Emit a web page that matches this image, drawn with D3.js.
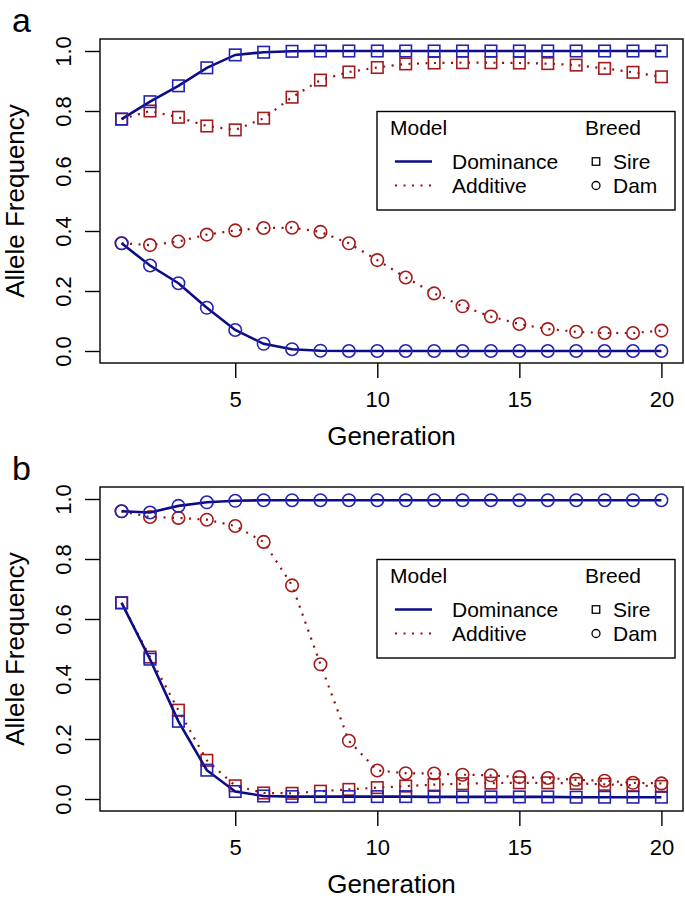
<!DOCTYPE html>
<html><head><meta charset="utf-8">
<script src="https://cdn.jsdelivr.net/npm/d3@7/dist/d3.min.js"></script>
<style>
body{margin:0;background:#fff}
svg{display:block}
text{font-family:"Liberation Sans",Arial,Helvetica,sans-serif;fill:#000}
</style>
</head><body>
<svg id="chart" width="685" height="899"></svg>
<script>
// ---------- data ----------
const generations = [1,2,3,4,5,6,7,8,9,10,11,12,13,14,15,16,17,18,19,20];
const xTickValues = [5,10,15,20];
const yTickValues = [0.0,0.2,0.4,0.6,0.8,1.0];
const panelLabels = ["a","b"];
const modelNames = ["Dominance","Additive"];
const breedNames = ["Sire","Dam"];
const xTitle = "Generation";
const yTitle = "Allele Frequency";

// panel a
const aDominanceSire = [0.773,0.831,0.884,0.944,0.987,0.996,0.999,1,1,1,1,1,1,1,1,1,1,1,1,1];
const aAdditiveSire  = [0.773,0.800,0.779,0.750,0.737,0.776,0.846,0.903,0.930,0.945,0.957,0.960,0.961,0.961,0.960,0.958,0.953,0.942,0.929,0.914];
const aDominanceDam  = [0.359,0.285,0.226,0.144,0.070,0.024,0.006,0.001,0,0,0,0,0,0,0,0,0,0,0,0];
const aAdditiveDam   = [0.359,0.353,0.365,0.388,0.402,0.410,0.411,0.397,0.359,0.303,0.245,0.192,0.149,0.115,0.090,0.073,0.064,0.060,0.060,0.068];

// panel b
const bDominanceSire = [0.654,0.466,0.259,0.096,0.025,0.010,0.008,0.008,0.008,0.008,0.008,0.007,0.007,0.007,0.007,0.007,0.006,0.006,0.006,0.006];
const bAdditiveSire  = [0.654,0.473,0.296,0.129,0.044,0.020,0.019,0.026,0.032,0.038,0.043,0.048,0.051,0.053,0.054,0.054,0.052,0.049,0.046,0.042];
const bDominanceDam  = [0.959,0.955,0.977,0.989,0.994,0.996,0.996,0.996,0.996,0.996,0.996,0.996,0.996,0.996,0.996,0.996,0.996,0.996,0.996,0.996];
const bAdditiveDam   = [0.959,0.940,0.937,0.931,0.910,0.857,0.712,0.449,0.194,0.095,0.086,0.085,0.081,0.079,0.073,0.070,0.064,0.061,0.054,0.052];

// ---------- styles ----------
const domLine = "#0c0c88", domMark = "#2323b4";
const addLine = "#8e1212", addMark = "#a21c1c";

const svg = d3.select("#chart");
const left = 100, right = 683;
const panelOffset = 448;
const boxTop = 39, boxBottom = 363;

const x = d3.scaleLinear().domain([0.24, 20.76]).range([left, right]);

const panels = [
  {label: panelLabels[0], dy: 0, series: [
    {vals: aAdditiveSire, model: 1, breed: 0},
    {vals: aAdditiveDam, model: 1, breed: 1},
    {vals: aDominanceSire, model: 0, breed: 0},
    {vals: aDominanceDam, model: 0, breed: 1}
  ]},
  {label: panelLabels[1], dy: panelOffset, series: [
    {vals: bAdditiveSire, model: 1, breed: 0},
    {vals: bAdditiveDam, model: 1, breed: 1},
    {vals: bDominanceSire, model: 0, breed: 0},
    {vals: bDominanceDam, model: 0, breed: 1}
  ]}
];

function drawMarker(g, cx, cy, breed, color, size, sw) {
  if (breed === 0) {
    g.append("rect").attr("x", cx - size/2).attr("y", cy - size/2)
      .attr("width", size).attr("height", size)
      .attr("fill", "none").attr("stroke", color).attr("stroke-width", sw);
  } else {
    g.append("circle").attr("cx", cx).attr("cy", cy).attr("r", size/2)
      .attr("fill", "none").attr("stroke", color).attr("stroke-width", sw);
  }
}

panels.forEach(p => {
  const g = svg.append("g").attr("transform", `translate(0,${p.dy})`);
  const y = d3.scaleLinear().domain([-0.04, 1.04]).range([boxBottom, boxTop]);

  // panel letter
  g.append("text").attr("x", 12).attr("y", 32).attr("font-size", 34).text(p.label);

  // axes
  const xa = g.append("g").attr("transform", `translate(0,${boxBottom})`)
    .call(d3.axisBottom(x).tickValues(xTickValues).tickSize(15).tickPadding(13).tickFormat(d3.format("d")));
  xa.select(".domain").remove();
  xa.selectAll("line").attr("stroke", "#000").attr("stroke-width", 1.4);
  xa.selectAll("text").attr("font-size", 22).attr("fill", "#000");

  const ya = g.append("g").attr("transform", `translate(${left},0)`)
    .call(d3.axisLeft(y).tickValues(yTickValues).tickSize(15).tickFormat(d3.format(".1f")));
  ya.select(".domain").remove();
  ya.selectAll("line").attr("stroke", "#000").attr("stroke-width", 1.4);
  ya.selectAll("text").attr("font-size", 22).attr("fill", "#000")
    .attr("text-anchor", "middle").attr("dy", null)
    .attr("x", 0).attr("y", 0)
    .attr("transform", "translate(-29,0) rotate(-90)");

  // titles
  g.append("text").attr("x", (left + right)/2).attr("y", 445)
    .attr("text-anchor", "middle").attr("font-size", 26).text(xTitle);
  g.append("text").attr("transform", `translate(24,${(boxTop + boxBottom)/2}) rotate(-90)`)
    .attr("text-anchor", "middle").attr("font-size", 26).text(yTitle);

  // series
  const line = d3.line().x((d, i) => x(generations[i])).y(d => y(d));
  p.series.forEach(s => {
    const isDom = s.model === 0;
    g.append("path").datum(s.vals).attr("d", line)
      .attr("fill", "none")
      .attr("stroke", isDom ? domLine : addLine)
      .attr("stroke-width", isDom ? 2.6 : 2.2)
      .attr("stroke-dasharray", isDom ? null : "2,6.5");
    const mg = g.append("g");
    s.vals.forEach((v, i) => drawMarker(mg, x(generations[i]), y(v), s.breed,
      isDom ? domMark : addMark, s.breed === 0 ? 11.5 : 12.5, 1.6));
  });

  // box
  g.append("rect").attr("x", left).attr("y", boxTop)
    .attr("width", right - left).attr("height", boxBottom - boxTop)
    .attr("fill", "none").attr("stroke", "#000").attr("stroke-width", 1.4);

  // legend
  const lg = g.append("g");
  lg.append("rect").attr("x", 377).attr("y", 111.5).attr("width", 298).attr("height", 98.5)
    .attr("fill", "#fff").attr("stroke", "#000").attr("stroke-width", 1.4);
  lg.append("text").attr("x", 390).attr("y", 135).attr("font-size", 21).text("Model");
  lg.append("text").attr("x", 585).attr("y", 135).attr("font-size", 21).text("Breed");
  const rowY = [161.5, 185.5];
  modelNames.forEach((m, i) => {
    lg.append("line").attr("x1", 395).attr("x2", 432).attr("y1", rowY[i]).attr("y2", rowY[i])
      .attr("stroke", i === 0 ? domLine : addLine)
      .attr("stroke-width", i === 0 ? 2.6 : 2.2)
      .attr("stroke-dasharray", i === 0 ? null : "2,6.5");
    lg.append("text").attr("x", 452).attr("y", rowY[i] + 7).attr("font-size", 21).text(m);
  });
  breedNames.forEach((b, i) => {
    drawMarker(lg, 596, rowY[i], i, "#000", i === 0 ? 7.5 : 8, 1.3);
    lg.append("text").attr("x", 613).attr("y", rowY[i] + 7).attr("font-size", 21).text(b);
  });
});
</script>
</body></html>
